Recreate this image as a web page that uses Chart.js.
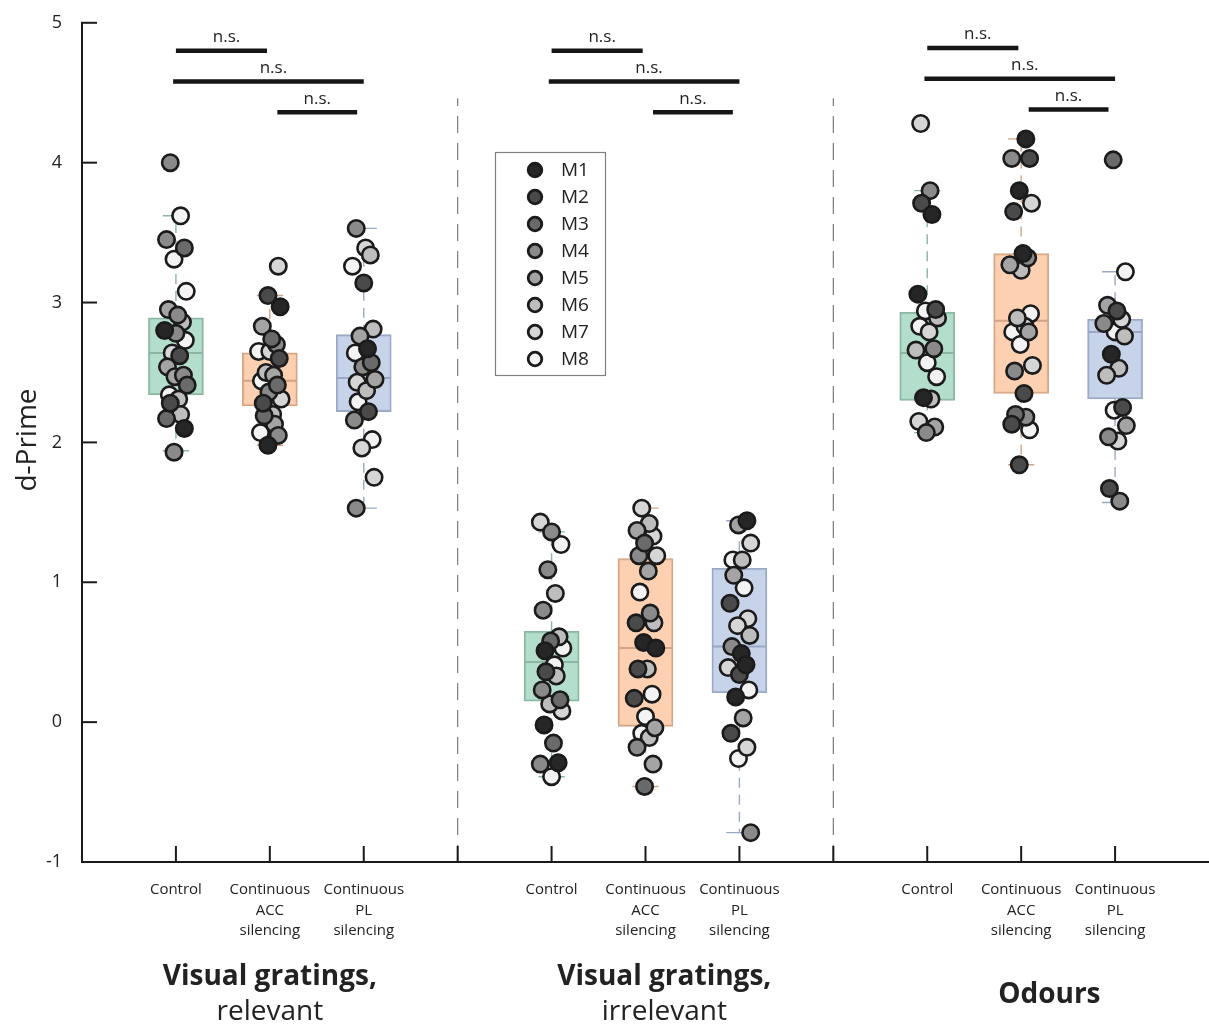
<!DOCTYPE html>
<html>
<head>
<meta charset="utf-8">
<script src="https://cdn.jsdelivr.net/npm/chart.js@4.4.1/dist/chart.umd.min.js"></script>
<style>
  html, body { margin: 0; padding: 0; background: #fff; overflow: hidden; }
  canvas { display: block; }
</style>
</head>
<body>
<canvas id="chart" width="1209" height="1028"></canvas>
<script>
// categories
const conditions = [['Control'], ['Continuous', 'ACC', 'silencing'], ['Continuous', 'PL', 'silencing']];
const groups = [['Visual gratings,', 'relevant'], ['Visual gratings,', 'irrelevant'], ['Odours']];
const mice = ['M1', 'M2', 'M3', 'M4', 'M5', 'M6', 'M7', 'M8'];
const yTicks = [-1, 0, 1, 2, 3, 4, 5];

// d-prime per session, and which mouse (0 = M1 ... 7 = M8)
const relCtrl = [4.00, 3.62, 3.45, 3.39, 3.31, 3.08, 2.95, 2.91, 2.86, 2.80, 2.78, 2.73, 2.64, 2.62, 2.54, 2.48, 2.47, 2.41, 2.34, 2.31, 2.28, 2.20, 2.17, 2.10, 1.93];
const relCtrlMouse = [3, 7, 3, 2, 7, 7, 4, 3, 5, 0, 3, 7, 6, 1, 4, 3, 4, 2, 7, 5, 1, 5, 2, 0, 3];
const relAcc = [3.26, 3.05, 2.97, 2.83, 2.74, 2.70, 2.65, 2.65, 2.60, 2.50, 2.48, 2.44, 2.41, 2.36, 2.31, 2.28, 2.20, 2.19, 2.13, 2.07, 2.05, 1.98];
const relAccMouse = [6, 1, 0, 4, 2, 3, 7, 6, 1, 5, 4, 7, 2, 3, 6, 1, 5, 2, 4, 7, 3, 0];
const relPl = [3.53, 3.39, 3.34, 3.26, 3.14, 2.81, 2.76, 2.67, 2.64, 2.57, 2.54, 2.45, 2.43, 2.37, 2.29, 2.22, 2.16, 2.02, 1.96, 1.75, 1.53];
const relPlMouse = [3, 6, 5, 7, 1, 5, 4, 0, 7, 2, 3, 4, 6, 5, 7, 1, 3, 7, 6, 6, 3];

const irrCtrl = [1.43, 1.36, 1.27, 1.09, 0.92, 0.80, 0.61, 0.58, 0.53, 0.51, 0.41, 0.36, 0.33, 0.23, 0.16, 0.13, 0.08, -0.02, -0.15, -0.29, -0.30, -0.39];
const irrCtrlMouse = [6, 3, 7, 3, 5, 3, 5, 2, 7, 0, 7, 1, 5, 3, 2, 5, 6, 0, 2, 0, 3, 7];
const irrAcc = [1.53, 1.42, 1.37, 1.33, 1.28, 1.19, 1.19, 1.08, 0.93, 0.78, 0.71, 0.71, 0.57, 0.53, 0.38, 0.38, 0.20, 0.17, 0.04, -0.04, -0.08, -0.11, -0.18, -0.30, -0.46];
const irrAccMouse = [6, 5, 4, 6, 2, 6, 3, 4, 7, 3, 1, 5, 0, 0, 1, 5, 7, 1, 7, 4, 7, 5, 3, 4, 2];
const irrPl = [1.44, 1.41, 1.28, 1.16, 1.16, 1.05, 0.96, 0.85, 0.74, 0.69, 0.62, 0.54, 0.49, 0.41, 0.39, 0.34, 0.23, 0.18, 0.03, -0.08, -0.18, -0.26, -0.79];
const irrPlMouse = [0, 4, 6, 7, 5, 4, 7, 1, 6, 6, 5, 3, 0, 0, 6, 1, 7, 0, 4, 1, 6, 7, 3];

const odoCtrl = [4.28, 3.80, 3.71, 3.63, 3.06, 2.95, 2.94, 2.89, 2.83, 2.79, 2.67, 2.66, 2.57, 2.47, 2.32, 2.31, 2.15, 2.11, 2.07];
const odoCtrlMouse = [6, 3, 1, 0, 0, 1, 7, 5, 7, 6, 3, 5, 7, 7, 0, 5, 6, 4, 3];
const odoAcc = [4.17, 4.03, 4.03, 3.80, 3.71, 3.65, 3.35, 3.32, 3.27, 3.23, 2.92, 2.89, 2.83, 2.79, 2.79, 2.70, 2.55, 2.51, 2.35, 2.20, 2.18, 2.13, 2.09, 1.84];
const odoAccMouse = [0, 3, 1, 0, 6, 1, 0, 3, 4, 5, 7, 5, 6, 7, 4, 7, 6, 3, 1, 2, 3, 1, 7, 1];
const odoPl = [4.02, 3.22, 2.98, 2.94, 2.88, 2.85, 2.79, 2.76, 2.63, 2.53, 2.48, 2.25, 2.23, 2.12, 2.04, 2.01, 1.67, 1.58];
const odoPlMouse = [2, 7, 4, 1, 6, 3, 7, 5, 0, 5, 5, 1, 7, 4, 3, 6, 1, 3];

// box summaries: [q1, median, q3, whisker low, whisker high]
const relCtrlBox = [2.34, 2.64, 2.89, 1.94, 3.62];
const relAccBox = [2.26, 2.44, 2.64, 1.98, 3.05];
const relPlBox = [2.22, 2.46, 2.77, 1.53, 3.53];
const irrCtrlBox = [0.15, 0.43, 0.65, -0.39, 1.36];
const irrAccBox = [-0.03, 0.53, 1.17, -0.46, 1.53];
const irrPlBox = [0.21, 0.54, 1.10, -0.79, 1.44];
const odoCtrlBox = [2.30, 2.64, 2.93, 2.07, 3.80];
const odoAccBox = [2.35, 2.87, 3.35, 1.84, 4.17];
const odoPlBox = [2.31, 2.79, 2.88, 1.57, 3.22];

// pairwise comparisons inside each group
const sigPairs = [[0, 1], [0, 2], [1, 2]];
const sigLabels = ['n.s.', 'n.s.', 'n.s.'];

// ---------------------------------------------------------------
const values = [relCtrl, relAcc, relPl, irrCtrl, irrAcc, irrPl, odoCtrl, odoAcc, odoPl];
const mouseIds = [relCtrlMouse, relAccMouse, relPlMouse, irrCtrlMouse, irrAccMouse, irrPlMouse, odoCtrlMouse, odoAccMouse, odoPlMouse];
const boxes = [relCtrlBox, relAccBox, relPlBox, irrCtrlBox, irrAccBox, irrPlBox, odoCtrlBox, odoAccBox, odoPlBox];

const FONT = '"Open Sans", "Noto Sans", sans-serif';
const mouseFill = ['#262626', '#4a4a4a', '#6a6a6a', '#8a8a8a', '#a4a4a4', '#bdbdbd', '#d6d6d6', '#f3f3f3'];
const boxFill = ['rgba(160,214,190,0.8)', 'rgba(251,196,158,0.8)', 'rgba(185,200,228,0.8)'];
const boxEdge = ['#8cb5a2', '#d2a587', '#99a8c4'];
const jitter = [-0.06, 0.05, -0.1, 0.09, -0.02, 0.11, -0.08, 0.02, 0.07, -0.12, 0.0, 0.1, -0.04, 0.04, -0.09, 0.08, -0.01, 0.12, -0.07, 0.03];

// x position of a box: 3 conditions per group, one empty slot between groups
function boxX(i) { return Math.floor(i / 3) * 4 + (i % 3) + 1; }

const datasets = [];

// points, one dataset per mouse
mice.forEach((m, mi) => {
  const pts = [];
  values.forEach((arr, bi) => {
    arr.forEach((v, k) => {
      if (mouseIds[bi][k] === mi) pts.push({ x: boxX(bi) + jitter[(k + bi * 3) % jitter.length], y: v });
    });
  });
  datasets.push({
    type: 'scatter', label: m, data: pts, order: 1,
    pointRadius: 8.2, pointBorderWidth: 2.6,
    pointBackgroundColor: mouseFill[mi], pointBorderColor: '#1b1b1b'
  });
});

// boxes as floating bars
datasets.push({
  type: 'bar', label: 'box', order: 5,
  data: boxes.map((b, i) => ({ x: boxX(i), y: [b[0], b[2]] })),
  backgroundColor: boxes.map((b, i) => boxFill[i % 3]),
  borderColor: boxes.map((b, i) => boxEdge[i % 3]),
  borderWidth: 1.6, borderSkipped: false, barThickness: 55
});

// medians, whiskers, caps
boxes.forEach((b, i) => {
  const x = boxX(i), c = boxEdge[i % 3];
  datasets.push({
    type: 'line', order: 4, data: [{ x: x - 0.29, y: b[1] }, { x: x + 0.29, y: b[1] }],
    borderColor: c, borderWidth: 2, pointRadius: 0
  });
  datasets.push({
    type: 'line', order: 6,
    data: [{ x: x, y: b[2] }, { x: x, y: b[4] }, { x: x, y: null }, { x: x, y: b[0] }, { x: x, y: b[3] }],
    borderColor: c, borderWidth: 1.4, borderDash: [10, 7], pointRadius: 0, spanGaps: false
  });
  datasets.push({
    type: 'line', order: 6,
    data: [{ x: x - 0.14, y: b[4] }, { x: x + 0.14, y: b[4] }, { x: x, y: null }, { x: x - 0.14, y: b[3] }, { x: x + 0.14, y: b[3] }],
    borderColor: c, borderWidth: 1.4, pointRadius: 0, spanGaps: false
  });
});

// dashed separators between groups
[4, 8].forEach(sx => {
  datasets.push({
    type: 'line', order: 7, data: [{ x: sx, y: -1 }, { x: sx, y: 4.46 }],
    borderColor: '#7a7a7a', borderWidth: 1.2, borderDash: [17, 10], pointRadius: 0
  });
});

// significance bars
const sigLevels = [4.8, 4.58, 4.36];
const sigTrim = [[0, -0.03], [-0.03, 0], [0.08, -0.07]];
groups.forEach((g, gi) => {
  sigPairs.forEach((p, pi) => {
    const x0 = gi * 4 + p[0] + 1 + sigTrim[pi][0], x1 = gi * 4 + p[1] + 1 + sigTrim[pi][1];
    const y = sigLevels[pi] + (gi === 2 ? 0.02 : 0);
    datasets.push({
      type: 'line', order: 2, data: [{ x: x0, y: y }, { x: x1, y: y }],
      borderColor: '#161616', borderWidth: 4.5, pointRadius: 0, borderCapStyle: 'butt'
    });
  });
});

const decorations = {
  id: 'decorations',
  afterDraw(chart) {
    const ctx = chart.ctx, xs = chart.scales.x, ys = chart.scales.y;
    const left = chart.chartArea.left, bottom = chart.chartArea.bottom;
    ctx.save();
    // inward ticks
    ctx.strokeStyle = '#1a1a1a';
    ctx.lineWidth = 2;
    yTicks.forEach(t => {
      const py = ys.getPixelForValue(t);
      ctx.beginPath(); ctx.moveTo(left - 1, py); ctx.lineTo(left + 15, py); ctx.stroke();
    });
    [1, 2, 3, 4, 5, 6, 7, 8, 9, 10, 11].forEach(t => {
      const px = xs.getPixelForValue(t);
      ctx.beginPath(); ctx.moveTo(px, bottom + 1); ctx.lineTo(px, bottom - 16); ctx.stroke();
    });

    // n.s. labels
    ctx.fillStyle = '#222';
    ctx.font = '17px ' + FONT;
    ctx.textAlign = 'center';
    ctx.textBaseline = 'bottom';
    groups.forEach((g, gi) => {
      sigPairs.forEach((p, pi) => {
        const x0 = gi * 4 + p[0] + 1 + sigTrim[pi][0], x1 = gi * 4 + p[1] + 1 + sigTrim[pi][1];
        const y = sigLevels[pi] + (gi === 2 ? 0.02 : 0);
        const px = (xs.getPixelForValue(x0) + xs.getPixelForValue(x1)) / 2 + (pi < 2 ? 5 : 0);
        ctx.fillText(sigLabels[pi], px, ys.getPixelForValue(y) - 5);
      });
    });

    // group titles
    ctx.textBaseline = 'middle';
    const titleX = [2, 6.2, 10.3];
    groups.forEach((g, gi) => {
      const px = xs.getPixelForValue(titleX[gi]);
      if (g.length === 1) {
        ctx.font = 'bold 28px ' + FONT;
        ctx.fillText(g[0], px, 995);
      } else {
        ctx.font = 'bold 28px ' + FONT;
        ctx.fillText(g[0], px, 977);
        ctx.font = '28px ' + FONT;
        ctx.fillText(g[1], px, 1012);
      }
    });

    // y title
    ctx.save();
    ctx.translate(28, 440);
    ctx.rotate(-Math.PI / 2);
    ctx.font = '28px ' + FONT;
    ctx.fillText('d-Prime', 0, 0);
    ctx.restore();

    // legend
    ctx.strokeStyle = '#808080';
    ctx.lineWidth = 1.2;
    ctx.strokeRect(495.5, 152.5, 110, 223);
    ctx.textAlign = 'left';
    ctx.font = '19px ' + FONT;
    mice.forEach((m, mi) => {
      const py = 170 + mi * 27;
      ctx.beginPath();
      ctx.arc(535, py, 6.8, 0, Math.PI * 2);
      ctx.fillStyle = mouseFill[mi];
      ctx.fill();
      ctx.lineWidth = 2.8;
      ctx.strokeStyle = '#1b1b1b';
      ctx.stroke();
      ctx.fillStyle = '#222';
      ctx.fillText(m, 561, py + 1);
    });
    ctx.restore();
  }
};

new Chart(document.getElementById('chart'), {
  type: 'scatter',
  data: { datasets: datasets },
  options: {
    responsive: false,
    animation: false,
    layout: { autoPadding: false, padding: { top: 20, right: 0, left: 0, bottom: 0 } },
    plugins: { legend: { display: false }, tooltip: { enabled: false } },
    scales: {
      x: {
        type: 'linear', min: 0, max: 12, offset: false,
        grid: { display: false, offset: false },
        border: { display: true, color: '#1a1a1a', width: 2 },
        afterBuildTicks: scale => { scale.ticks = [1, 2, 3, 5, 6, 7, 9, 10, 11].map(v => ({ value: v })); },
        afterFit: scale => { scale.height = 166; scale.paddingLeft = 0; scale.paddingRight = 0; },
        ticks: {
          autoSkip: false, maxRotation: 0, padding: 10, color: '#222',
          font: { family: FONT, size: 15, lineHeight: 1.35 },
          callback: v => conditions[(v - 1) % 4]
        }
      },
      y: {
        min: -1, max: 5,
        grid: { display: false },
        border: { display: true, color: '#1a1a1a', width: 2 },
        afterBuildTicks: scale => { scale.ticks = yTicks.map(v => ({ value: v })); },
        afterFit: scale => { scale.width = 82; },
        ticks: { padding: 12, color: '#222', font: { family: FONT, size: 18 } }
      }
    }
  },
  plugins: [decorations]
});
</script>
</body>
</html>
